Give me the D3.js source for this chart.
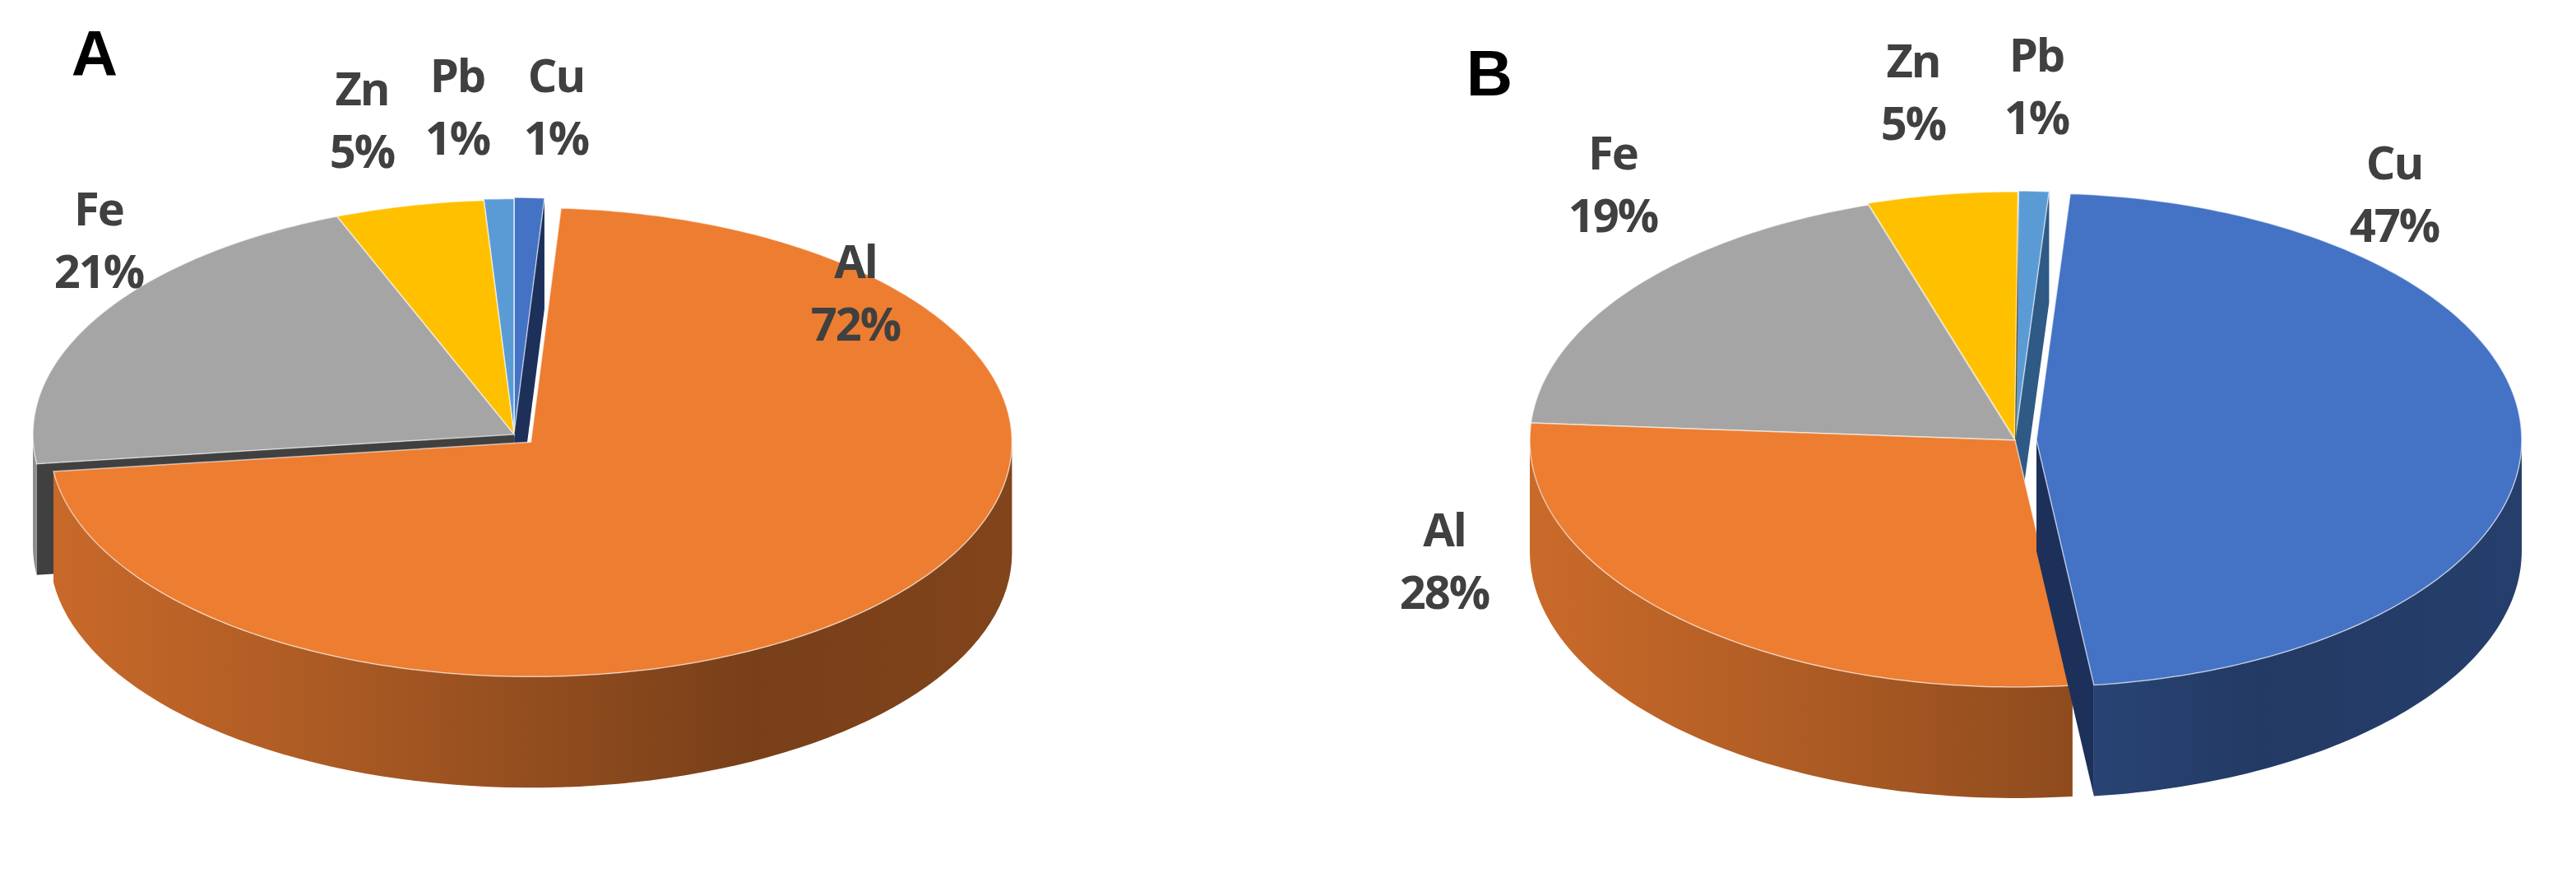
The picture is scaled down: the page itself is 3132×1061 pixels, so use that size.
<!DOCTYPE html>
<html><head><meta charset="utf-8">
<script src="https://cdn.jsdelivr.net/npm/d3@7"></script>
<style>body{margin:0;background:#fff}</style></head>
<body><svg id="c" width="3132" height="1061"></svg>
<script>
const metals = ["Cu","Al","Fe","Zn","Pb"];
const valuesA = [1,72,21,5,1];
const valuesB = [47,28,19,5,1];
const colors = {Cu:"#4472C4",Al:"#ED7D31",Fe:"#A5A5A5",Zn:"#FFC000",Pb:"#5B9BD5"};
const wallColors = {Cu:"#1d305a",Al:"#7a3c12",Fe:"#404040",Zn:"#6b5000",Pb:"#2e5a85"};

const svg = d3.select("#c");
const defs = svg.append("defs");

const charts = [
  {id:"A", values:valuesA, cx:625, cy:528, rx:585, ry:285, depth:135, rot:0, explode:{Al:28,Cu:6,Pb:3}, order:["Cu","Pb","Zn","Fe","Al"],
   title:[115,65], labels:{Zn:[440,106],Pb:[556,90],Cu:[676,90],Fe:[120,252],Al:[1040,316]}},
  {id:"B", values:valuesB, cx:2450, cy:535, rx:590, ry:300, depth:135, rot:4, explode:{Cu:26,Zn:4,Pb:6}, order:["Pb","Zn","Fe","Al","Cu"],
   title:[1811,89], labels:{Zn:[2326,72],Pb:[2476,65],Fe:[1961,184],Cu:[2911,196],Al:[1756,642]}}
];

function shade(c,k){return d3.rgb(c).darker(k).formatHex();}

charts.forEach(ch=>{
  const pie = d3.pie().sort(null).value(d=>d.v);
  const arcs = pie(metals.map((m,i)=>({m,v:ch.values[i]})));
  const byM = {}; arcs.forEach(a=>byM[a.data.m]=a);
  const g = svg.append("g");
  const rad = d=>d*Math.PI/180;
  const proj = (a,r,dx,dy,z)=>[ch.cx+dx+ch.rx*r*Math.sin(a), ch.cy+dy-ch.ry*r*Math.cos(a)+z];
  const line = d3.line();
  ch.order.forEach(m=>{
    const a = byM[m];
    const a0 = a.startAngle+rad(ch.rot), a1 = a.endAngle+rad(ch.rot);
    const mid=(a0+a1)/2, e=ch.explode[m]||0;
    const dx=e*Math.sin(mid), dy=-e*Math.cos(mid)*ch.ry/ch.rx;
    const gid="g"+ch.id+m;
    const gr=defs.append("linearGradient").attr("id",gid).attr("gradientUnits","userSpaceOnUse")
      .attr("x1",ch.cx-ch.rx).attr("x2",ch.cx+ch.rx).attr("y1",0).attr("y2",0);
    [[0,0.45],[0.3,0.9],[0.75,1.9],[1,1.7]].forEach(([o,k])=>gr.append("stop").attr("offset",o).attr("stop-color",shade(colors[m],k)));
    const norm=x=>((x%(2*Math.PI))+2*Math.PI)%(2*Math.PI);
    const wall=(ang)=>{
      const p=[proj(ang,0,dx,dy,0),proj(ang,1,dx,dy,0),proj(ang,1,dx,dy,ch.depth),proj(ang,0,dx,dy,ch.depth)];
      g.append("path").attr("d",line(p)+"Z").attr("fill",wallColors[m]);
    };
    if(norm(a0)>Math.PI) wall(a0);
    if(norm(a1)<Math.PI) wall(a1);
    for(let k=-1;k<=1;k++){
      const lo=Math.max(a0,Math.PI/2+k*2*Math.PI), hi=Math.min(a1,1.5*Math.PI+k*2*Math.PI);
      if(hi>lo){
        const ts=d3.range(0,1.0001,1/80).map(t=>lo+(hi-lo)*t);
        const top=ts.map(t=>proj(t,1,dx,dy,0)), bot=ts.slice().reverse().map(t=>proj(t,1,dx,dy,ch.depth));
        g.append("path").attr("d",line(top.concat(bot))+"Z").attr("fill",`url(#${gid})`);
      }
    }
    const ts=d3.range(0,1.0001,1/Math.max(4,Math.ceil((a1-a0)*60))).map(t=>a0+(a1-a0)*t);
    const pts=[proj(0,0,dx,dy,0)].concat(ts.map(t=>proj(t,1,dx,dy,0)));
    g.append("path").attr("d",line(pts)+"Z").attr("fill",colors[m])
      .attr("stroke","#fff").attr("stroke-width",1.5).attr("stroke-opacity",0.6);
  });
  g.append("text").attr("x",ch.title[0]).attr("y",ch.title[1]).attr("text-anchor","middle").attr("dominant-baseline","central")
    .attr("font-family","Liberation Sans, Arial, sans-serif").attr("font-weight","bold").attr("font-size",78).attr("fill","#000").text(ch.id);
  metals.forEach((m,i)=>{
    const [x,y]=ch.labels[m];
    const t=g.append("text").attr("text-anchor","middle").attr("font-family","'Open Sans',sans-serif")
      .attr("font-weight","bold").attr("font-size",56).attr("letter-spacing",-2).attr("fill","#404040");
    t.append("tspan").attr("x",x).attr("y",y).attr("dominant-baseline","central").text(m);
    t.append("tspan").attr("x",x).attr("y",y+76).attr("dominant-baseline","central").text(ch.values[i]+"%");
  });
});
</script></body></html>
